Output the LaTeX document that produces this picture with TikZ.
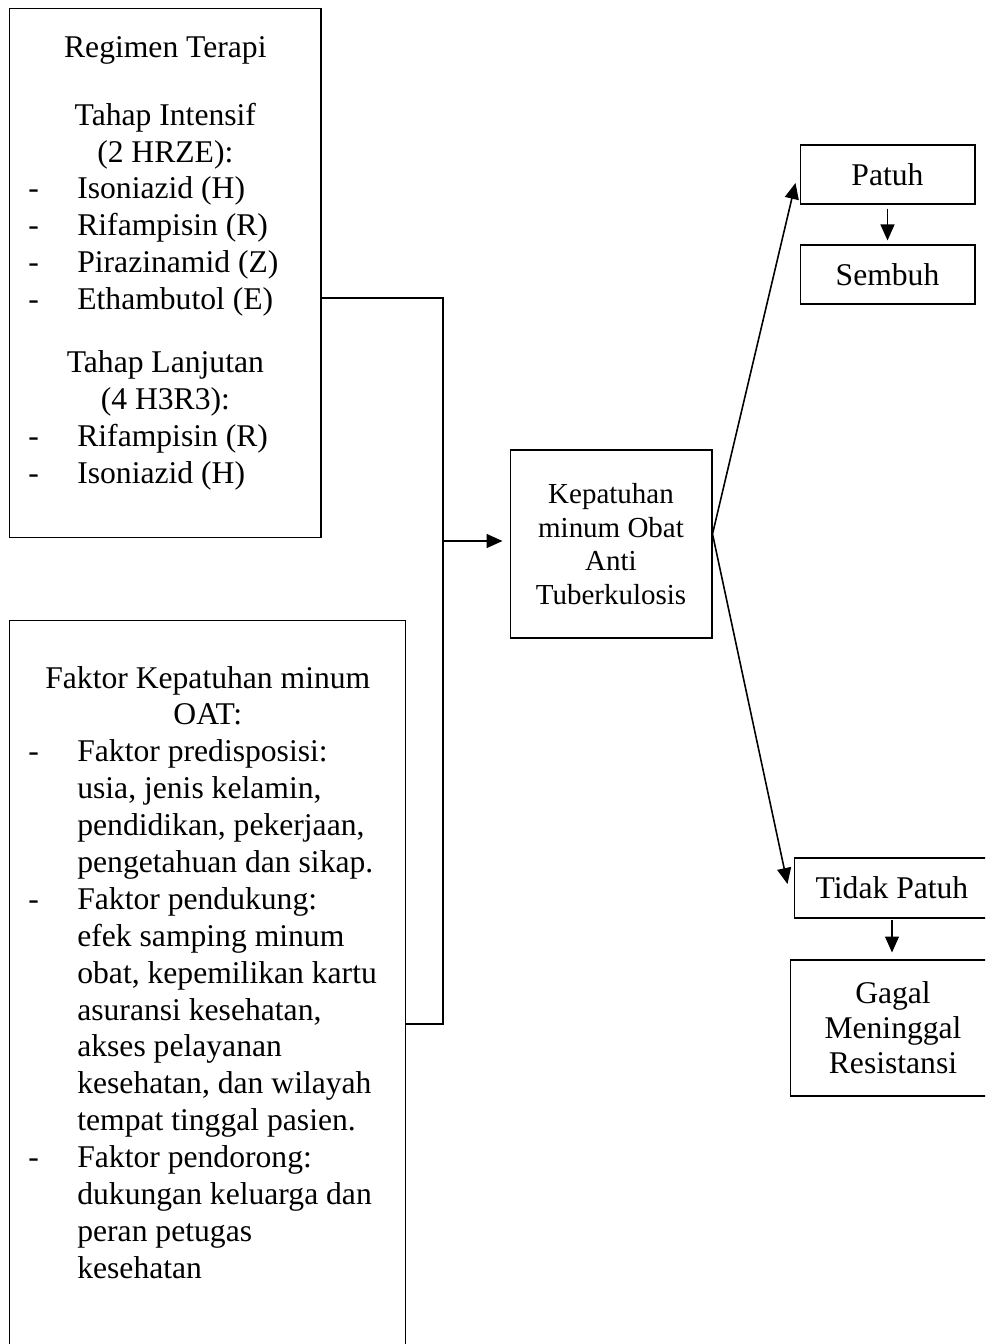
\documentclass[tikz,border=0pt]{standalone}
\usepackage{fontspec}
\setmainfont{Liberation Serif}
\usepackage{tikz}
\usetikzlibrary{arrows.meta}

\newcommand{\ctrln}[1]{\hspace*{\fill}#1\hspace*{\fill}\null}
\newcommand{\itm}{\makebox[0.98cm][l]{-}}
\newcommand{\ind}{\hspace*{0.98cm}}

\tikzset{
  box/.style={draw,line width=0.6pt,inner sep=0pt,font=\fontsize{18}{21}\selectfont},
  txt/.style={inner sep=0pt,align=flush left,font=\fontsize{18}{21}\selectfont},
  arr/.style={-{Triangle[length=0.32cm,width=0.28cm]},line width=0.9pt},
}

\begin{document}
\begin{tikzpicture}[x=0.02cm,y=-0.02cm]
            \path[use as bounding box] (0,0) rectangle (985,1344);
            \clip (0,0) rectangle (985,1344);

            \node[box,minimum width=6.24cm,minimum height=10.59cm] (regimen) at (165,272.75) {};
            \node[box,minimum width=7.94cm,minimum height=15.6cm] (faktor) at (207.5,1010) {};
            \node[box,minimum width=4.04cm,minimum height=3.76cm,align=center,
                  font=\fontsize{16.5}{19.2}\selectfont] (kepatuhan) at (611,544) {Kepatuhan\\minum Obat\\Anti\\Tuberkulosis};
            \node[box,minimum width=3.5cm,minimum height=1.18cm] (patuh) at (887.5,174.5) {Patuh};
            \node[box,minimum width=3.5cm,minimum height=1.18cm] (sembuh) at (887.5,274.5) {Sembuh};
            \node[box,minimum width=3.92cm,minimum height=1.2cm] (tidak) at (892,888) {Tidak Patuh};
            \node[box,minimum width=4.12cm,minimum height=2.72cm,align=center,
                  font=\fontsize{18}{20}\selectfont] (gagal) at (893,1028) {Gagal\\Meninggal\\Resistansi};

            \node[txt,text width=5.48cm,anchor=base west] (regimentxt) at (28,58) {%
              \ctrln{Regimen Terapi}\\[0.606cm]
              \ctrln{Tahap Intensif}\\
              \ctrln{(2 HRZE):}\\
              \itm Isoniazid (H)\\
              \itm Rifampisin (R)\\
              \itm Pirazinamid (Z)\\
              \itm Ethambutol (E)\\[0.526cm]
              \ctrln{Tahap Lanjutan}\\
              \ctrln{(4 H3R3):}\\
              \itm Rifampisin (R)\\
              \itm Isoniazid (H)};

            \node[txt,text width=7.18cm,anchor=base west] (faktortxt) at (28,688) {%
              \ctrln{Faktor Kepatuhan minum}\\
              \ctrln{OAT:}\\
              \itm Faktor predisposisi:\\
              \ind usia, jenis kelamin,\\
              \ind pendidikan, pekerjaan,\\
              \ind pengetahuan dan sikap.\\
              \itm Faktor pendukung:\\
              \ind efek samping minum\\
              \ind obat, kepemilikan kartu\\
              \ind asuransi kesehatan,\\
              \ind akses pelayanan\\
              \ind kesehatan, dan wilayah\\
              \ind tempat tinggal pasien.\\
              \itm Faktor pendorong:\\
              \ind dukungan keluarga dan\\
              \ind peran petugas\\
              \ind kesehatan};

            \coordinate (ja) at (443,298);
            \coordinate (jb) at (443,1024);
            \coordinate (jm) at (443,541);

            \draw[line width=0.9pt] (regimen.east |- ja) -- (ja) -- (jb) -- (faktor.east |- jb);
            \draw[arr,shorten >=0.14cm] (jm) -- (kepatuhan.west |- jm);
            \draw[arr] ([yshift=0.2cm]kepatuhan.east) -- ([xshift=-0.08cm,yshift=-0.17cm]patuh.west);
            \draw[arr] ([yshift=0.2cm]kepatuhan.east) -- ([xshift=-0.12cm,yshift=0.08cm]tidak.west);
            \draw[arr,line width=0.6pt,shorten <=0.08cm,shorten >=0.08cm] (patuh.south) -- (sembuh.north);
            \draw[arr,line width=0.6pt,shorten <=0.02cm,shorten >=0.14cm] (tidak.south) -- (tidak.south |- gagal.north);

        \end{tikzpicture}
\end{document}
